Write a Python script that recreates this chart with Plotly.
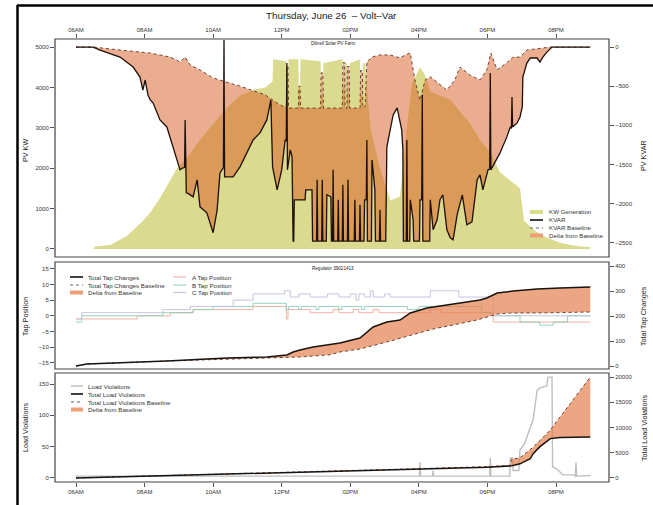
import plotly.graph_objects as go

W, H = 653, 505
DAY = "2014-06-26 "

hour_ticks = ["06:00", "08:00", "10:00", "12:00", "14:00", "16:00", "18:00", "20:00"]
hour_labels = ["06AM", "08AM", "10AM", "12PM", "02PM", "04PM", "06PM", "08PM"]

# ---------------- Top panel: Dibrell Solar PV Farm ----------------
gen_time = ["06:00", "06:30", "06:33", "07:00", "07:29", "07:57", "08:10", "08:27", "08:45", "08:57",
            "09:14", "09:37", "10:00", "10:24", "10:47", "11:13", "11:31", "11:40", "11:44", "11:45",
            "12:08", "12:09", "12:11", "12:12", "12:29", "12:30", "12:32", "12:33", "13:08", "13:09",
            "13:12", "13:13", "13:46", "13:47", "13:50", "13:51", "13:54", "13:55", "13:58", "13:59",
            "14:17", "14:18", "14:21", "14:22", "14:26", "14:35", "14:52", "15:10", "15:27", "15:39",
            "15:48", "16:02", "16:11", "16:20", "16:37", "16:55", "17:12", "17:30", "17:47", "18:05",
            "18:22", "18:40", "18:57", "19:04", "19:23", "19:41", "20:07", "20:33", "21:00"]
gen_kw = [0, 0, 60, 100, 320, 690, 900, 1260, 1700, 2000,
          2250, 2700, 3100, 3500, 3800, 3950, 4000, 4100, 4150, 4700,
          4650, 3700, 3700, 4700, 4700, 4000, 4000, 4700, 4650, 3800,
          3800, 4600, 4700, 4000, 4000, 4650, 4600, 3900, 3900, 4600,
          4700, 3800, 3800, 4600, 4600, 3000, 2000, 1200, 1300, 3000,
          4100, 4500, 4300, 3900, 3800, 3700, 3400, 3100, 2700, 2400,
          1900, 1700, 1500, 700, 450, 300, 150, 80, 40]

kvar_base_time = ["06:00", "06:30", "07:17", "08:10", "08:45", "09:02", "09:11", "09:20", "09:37", "10:00",
                  "10:47", "11:31", "11:57", "12:08", "12:09", "12:11", "12:12", "12:29", "12:30", "12:32",
                  "12:33", "13:08", "13:09", "13:12", "13:13", "13:46", "13:47", "13:50", "13:51", "13:54",
                  "13:55", "13:58", "13:59", "14:17", "14:18", "14:21", "14:22", "14:26", "14:29", "14:38",
                  "14:52", "15:10", "15:27", "15:36", "15:45", "15:53", "16:02", "16:11", "16:20", "16:37",
                  "16:49", "17:03", "17:12", "17:30", "17:47", "17:59", "18:06", "18:17", "18:34", "18:45",
                  "18:57", "19:09", "19:32", "19:50", "21:00"]
kvar_base = [0, 0, -38, -77, -128, -190, -128, -230, -293, -395,
             -500, -610, -740, -770, -250, -250, -780, -780, -500, -500,
             -780, -780, -330, -330, -780, -780, -200, -200, -780, -780,
             -250, -250, -780, -780, -300, -300, -780, -750, -190, -128,
             -100, -100, -140, -100, -77, -420, -680, -420, -380, -485,
             -550, -420, -255, -360, -420, -290, -77, -290, -200, -128,
             -128, -38, -13, 0, 0]

kvar_time = ["06:00", "06:30", "06:42", "07:17", "07:40", "07:52", "07:57", "08:01", "08:06", "08:10",
             "08:15", "08:27", "08:39", "08:50", "09:02", "09:07", "09:10", "09:11", "09:13", "09:16",
             "09:25", "09:32", "09:37", "09:49", "09:55", "10:00", "10:07", "10:12", "10:18", "10:19",
             "10:20", "10:35", "10:47", "10:59", "11:10", "11:22", "11:34", "11:41", "11:44", "11:52",
             "12:00", "12:06", "12:08", "12:09", "12:10", "12:15", "12:18", "12:20", "12:21", "12:22",
             "12:41", "12:42", "12:53", "12:54", "13:01", "13:02", "13:03", "13:10", "13:11", "13:12",
             "13:18", "13:19", "13:26", "13:27", "13:29", "13:30", "13:31", "13:38", "13:39", "13:40",
             "13:46", "13:47", "13:48", "13:55", "13:56", "13:57", "14:07", "14:08", "14:09", "14:16",
             "14:17", "14:18", "14:24", "14:25", "14:28", "14:29", "14:30", "14:37", "14:38", "14:43",
             "14:44", "14:51", "14:52", "14:53", "15:02", "15:04", "15:15", "15:22", "15:30", "15:32",
             "15:33", "15:38", "15:39", "15:40", "15:44", "15:45", "15:50", "15:51", "16:01", "16:02",
             "16:05", "16:06", "16:07", "16:19", "16:20", "16:25", "16:32", "16:37", "16:42", "16:49",
             "16:55", "17:00", "17:07", "17:16", "17:24", "17:33", "17:42", "17:47", "17:52", "18:01",
             "18:04", "18:05", "18:06", "18:22", "18:34", "18:40", "18:42", "18:43", "18:44", "18:52",
             "18:57", "19:01", "19:02", "19:09", "19:15", "19:27", "19:32", "19:37", "19:44", "19:53",
             "21:00"]
kvar = [0, 0, -38, -128, -255, -383, -549, -421, -612, -676,
        -715, -931, -1021, -1276, -1569, -1544, -1540, -931, -1863, -1870,
        -1914, -1697, -2042, -2118, -2246, -2373, -2080, -1608, -1540, 90,
        -1659, -1659, -1531, -1353, -1187, -1097, -931, -676, -1531, -1825,
        -1569, -1187, -1200, -204, -1569, -1314, -1400, -2480, -2480, -1952,
        -1952, -1825, -1825, -2480, -2480, -1697, -2480, -2480, -1697, -2480,
        -2480, -1888, -1914, -2480, -2480, -1569, -2480, -2480, -1952, -2480,
        -2480, -1761, -2480, -2480, -1697, -2480, -2480, -1952, -2480, -2480,
        -2016, -2480, -2480, -1952, -1952, -1187, -2480, -2480, -1442, -1825,
        -2480, -2480, -2080, -2480, -2480, -1276, -868, -778, -1059, -1300,
        -2480, -2480, -1187, -2480, -2480, -1952, -2207, -2480, -2480, -1952,
        -1952, -612, -2480, -2480, -1952, -2335, -2207, -1952, -1888, -2335,
        -2437, -2463, -2144, -1888, -2271, -2233, -1697, -1633, -1825, -1569,
        -1560, -332, -1569, -1353, -1148, -1021, -1040, -638, -1021, -970,
        -893, -766, -383, -204, -140, -140, -191, -128, -64, 0,
        0]

# ---------------- Middle panel: Regulator 39021413 ----------------
tapA_time = ["06:00", "07:47", "08:45", "09:25", "11:10", "12:08", "12:11", "12:50", "13:30", "13:40",
             "14:05", "14:15", "14:40", "14:50", "16:20", "16:40", "18:10", "21:00"]
tapA = [-1, 0, 1, 2, 3, -1, 2, 1, 2, 1,
        2, 1, 2, 1, 2, 1, -2, -2]
tapB_time = ["06:00", "06:10", "08:32", "09:25", "10:00", "11:10", "12:08", "12:12", "12:30", "12:35",
             "13:00", "13:05", "13:40", "13:45", "14:20", "14:25", "15:40", "16:00", "17:50", "18:10",
             "18:57", "19:32", "19:55", "20:20", "21:00"]
tapB = [-2, 0, 1, 2, 3, 4, 2, 3, 2, 3,
        2, 3, 2, 3, 2, 3, 2, 3, 1, 0,
        -2, -3, -2, 0, 0]
tapC_time = ["06:00", "06:10", "08:32", "09:20", "10:35", "11:10", "12:05", "12:15", "12:30", "12:50",
             "13:20", "13:40", "14:00", "14:10", "14:15", "14:25", "14:35", "14:40", "15:00", "15:10",
             "16:20", "17:10", "18:10", "21:00"]
tapC = [-1, 1, 2, 3, 5, 7, 8, 6, 7, 6,
        7, 6, 7, 5, 7, 6, 8, 6, 7, 6,
        8, 6, 0, 0]

taps_time = ["06:00", "06:19", "08:39", "10:24", "11:34", "12:09", "12:20", "12:32", "12:55", "13:07",
             "13:25", "13:42", "14:17", "14:40", "15:04", "15:27", "15:45", "16:14", "16:37", "17:12",
             "17:47", "17:59", "18:17", "18:45", "19:27", "20:07", "21:00"]
taps_total = [0, 8, 20, 32, 36, 44, 56, 64, 76, 80,
              88, 92, 112, 156, 176, 184, 212, 232, 240, 252,
              264, 272, 292, 300, 308, 312, 316]
taps_base_time = ["06:00", "06:19", "08:39", "09:37", "11:34", "12:32", "13:07", "13:25", "13:42", "14:17",
                  "15:04", "15:50", "16:25", "17:00", "17:42", "18:17", "18:40", "19:27", "21:00"]
taps_base = [0, 8, 20, 23, 32, 36, 42, 45, 56, 68,
             96, 124, 148, 164, 184, 208, 212, 212, 216]

# ---------------- Bottom panel: load violations ----------------
lv_time = ["06:00", "16:01", "16:02", "16:03", "16:24", "16:25", "16:26", "18:04", "18:05", "18:06",
           "18:39", "18:40", "18:44", "18:45", "18:55", "18:57", "19:04", "19:15", "19:20", "19:27",
           "19:32", "19:44", "19:46", "19:53", "19:54", "20:02", "20:12", "20:30", "20:34", "20:35",
           "20:36", "21:00"]
lv = [3, 3, 25, 3, 3, 12, 3, 3, 32, 3,
      3, 32, 32, 12, 12, 45, 53, 80, 93, 140,
      144, 147, 161, 161, 18, 14, 5, 5, 3, 25,
      3, 4]
tlv_time = ["06:00", "10:00", "13:10", "16:02", "18:00", "18:43", "18:57", "19:15", "19:20", "19:32",
            "19:50", "20:07", "21:00"]
tlv = [0, 700, 1200, 1800, 2100, 2400, 2800, 3800, 4800, 6200,
       7800, 8000, 8100]
tlv_base_time = ["06:00", "13:10", "16:02", "18:00", "18:40", "18:42", "18:57", "19:20", "19:50", "21:00"]
tlv_base = [0, 1250, 1850, 2250, 2500, 3700, 4000, 6100, 9500, 20000]

for a, b in [(gen_time, gen_kw), (kvar_base_time, kvar_base), (kvar_time, kvar), (tapA_time, tapA),
             (tapB_time, tapB), (tapC_time, tapC), (taps_time, taps_total), (taps_base_time, taps_base),
             (lv_time, lv), (tlv_time, tlv), (tlv_base_time, tlv_base)]:
    assert len(a) == len(b), (len(a), len(b))
    assert a == sorted(a)


def ts(lst):
    return [DAY + t for t in lst]


# ---------------- styles ----------------
FONT = "Liberation Sans, Arial, sans-serif"
YELLOW = "rgb(219,219,143)"
DELTA_TOP = "rgba(215,92,32,0.5)"
DELTA = "rgba(228,128,78,0.7)"
SALMON_SWATCH = "rgb(236,160,120)"
A_COL = "rgb(244,168,155)"
B_COL = "rgb(140,205,180)"
C_COL = "rgb(190,190,222)"
GREY = "rgb(190,190,190)"
DOT = dict(width=0.9, color="rgb(90,50,35)", dash="dot")

fig = go.Figure()

# Top panel
fig.add_trace(go.Scatter(x=ts(gen_time), y=gen_kw, xaxis="x", yaxis="y", mode="lines",
                         line=dict(width=0, color=YELLOW), fill="tozeroy", fillcolor=YELLOW,
                         showlegend=False, name="KW Generation"))
fig.add_trace(go.Scatter(x=ts(kvar_base_time), y=kvar_base, xaxis="x", yaxis="y2", mode="lines",
                         line=dict(width=0), showlegend=False, hoverinfo="skip"))
fig.add_trace(go.Scatter(x=ts(kvar_time), y=kvar, xaxis="x", yaxis="y2", mode="lines",
                         line=dict(width=0), fill="tonexty", fillcolor=DELTA_TOP,
                         showlegend=False, name="Delta from Baseline"))
fig.add_trace(go.Scatter(x=ts(kvar_base_time), y=kvar_base, xaxis="x", yaxis="y2", mode="lines",
                         line=DOT, showlegend=False, name="KVAR Baseline"))
fig.add_trace(go.Scatter(x=ts(kvar_time), y=kvar, xaxis="x", yaxis="y2", mode="lines",
                         line=dict(width=1.3, color="rgb(30,15,8)"),
                         showlegend=False, name="KVAR"))

# Middle panel
for t, v, c, n in [(tapA_time, tapA, A_COL, "A Tap Position"), (tapB_time, tapB, B_COL, "B Tap Position"),
                   (tapC_time, tapC, C_COL, "C Tap Position")]:
    fig.add_trace(go.Scatter(x=ts(t), y=v, xaxis="x2", yaxis="y3", mode="lines",
                             line=dict(width=0.9, color=c, shape="hv"), showlegend=False, name=n))
fig.add_trace(go.Scatter(x=ts(taps_base_time), y=taps_base, xaxis="x2", yaxis="y4", mode="lines",
                         line=dict(width=0), showlegend=False, hoverinfo="skip"))
fig.add_trace(go.Scatter(x=ts(taps_time), y=taps_total, xaxis="x2", yaxis="y4", mode="lines",
                         line=dict(width=0), fill="tonexty", fillcolor=DELTA,
                         showlegend=False, name="Delta from Baseline"))
fig.add_trace(go.Scatter(x=ts(taps_base_time), y=taps_base, xaxis="x2", yaxis="y4", mode="lines",
                         line=DOT, showlegend=False, name="Total Tap Changes Baseline"))
fig.add_trace(go.Scatter(x=ts(taps_time), y=taps_total, xaxis="x2", yaxis="y4", mode="lines",
                         line=dict(width=1.5, color="rgb(25,20,15)"),
                         showlegend=False, name="Total Tap Changes"))

# Bottom panel
fig.add_trace(go.Scatter(x=ts(lv_time), y=lv, xaxis="x3", yaxis="y5", mode="lines",
                         line=dict(width=1.4, color=GREY), showlegend=False, name="Load Violations"))
fig.add_trace(go.Scatter(x=ts(tlv_base_time), y=tlv_base, xaxis="x3", yaxis="y6", mode="lines",
                         line=dict(width=0), showlegend=False, hoverinfo="skip"))
fig.add_trace(go.Scatter(x=ts(tlv_time), y=tlv, xaxis="x3", yaxis="y6", mode="lines",
                         line=dict(width=0), fill="tonexty", fillcolor=DELTA,
                         showlegend=False, name="Delta from Baseline"))
fig.add_trace(go.Scatter(x=ts(tlv_base_time), y=tlv_base, xaxis="x3", yaxis="y6", mode="lines",
                         line=DOT, showlegend=False, name="Total Load Violations Baseline"))
fig.add_trace(go.Scatter(x=ts(tlv_time), y=tlv, xaxis="x3", yaxis="y6", mode="lines",
                         line=dict(width=1.5, color="rgb(25,20,15)"),
                         showlegend=False, name="Total Load Violations"))

# ---------------- layout ----------------
def px(x):
    return x / W


def py(y):
    return 1 - y / H


XD = [px(55), px(609)]
TOP = [py(257), py(39)]
MID = [py(369), py(262)]
BOT = [py(482), py(373)]

tickfont = dict(family=FONT, size=6, color="#333")
common = dict(showgrid=False, zeroline=False, showline=False, ticks="outside", ticklen=4,
              tickwidth=0.8, tickcolor="#555", tickfont=tickfont)
xrange = [DAY + "05:23:15", DAY + "21:32:45"]

fig.update_layout(
    width=W, height=H, margin=dict(l=0, r=0, t=0, b=0),
    paper_bgcolor="white", plot_bgcolor="white", showlegend=False,
    font=dict(family=FONT, color="#222"),
    xaxis=dict(domain=XD, anchor="y", side="top", type="date", range=xrange,
               tickvals=ts(hour_ticks), ticktext=hour_labels, **common),
    xaxis2=dict(domain=XD, anchor="y3", matches="x", type="date", showticklabels=False,
                showgrid=False, zeroline=False, ticks=""),
    xaxis3=dict(domain=XD, anchor="y5", matches="x", type="date", side="bottom",
                tickvals=ts(hour_ticks), ticktext=hour_labels, **common),
    yaxis=dict(domain=TOP, anchor="x", range=[-200, 5200],
               tickvals=[0, 1000, 2000, 3000, 4000, 5000], **common),
    yaxis2=dict(overlaying="y", anchor="x", side="right", range=[-2683, 103],
                tickvals=[-2500, -2000, -1500, -1000, -500, 0], **common),
    yaxis3=dict(domain=MID, anchor="x2", range=[-17, 17.2],
                tickvals=[-15, -10, -5, 0, 5, 10, 15], **common),
    yaxis4=dict(overlaying="y3", anchor="x2", side="right", range=[-12, 416],
                tickvals=[0, 100, 200, 300, 400], **common),
    yaxis5=dict(domain=BOT, anchor="x3", range=[-6.4, 167.6],
                tickvals=[0, 50, 100, 150], **common),
    yaxis6=dict(overlaying="y5", anchor="x3", side="right", range=[-800, 20800],
                tickvals=[0, 5000, 10000, 15000, 20000],
                ticktext=["0", "5000", "10000", "15000", "20000"], **common),
)

shapes = []
annotations = []

# panel boxes
for dom in (TOP, MID, BOT):
    shapes.append(dict(type="rect", xref="paper", yref="paper", x0=XD[0], x1=XD[1],
                       y0=dom[0], y1=dom[1], line=dict(color="#444", width=1.2)))
# outer frame
shapes.append(dict(type="line", xref="paper", yref="paper", x0=px(17), x1=1, y0=py(5.5), y1=py(5.5),
                   line=dict(color="black", width=2.5)))
shapes.append(dict(type="line", xref="paper", yref="paper", x0=px(17.5), x1=px(17.5), y0=py(5), y1=0,
                   line=dict(color="black", width=2.5)))


def text(x, y, s, size, angle=0, anchor="center", color="#222"):
    annotations.append(dict(x=px(x), y=py(y), xref="paper", yref="paper", text=s, showarrow=False,
                            textangle=angle, xanchor=anchor, yanchor="middle",
                            font=dict(family=FONT, size=size, color=color)))


text(331, 15, "Thursday, June 26\u00a0 \u2013 Volt\u2013Var", 9.8)
text(333, 44, "Dibrell Solar PV Farm", 4.6)
text(333, 268, "Regulator 39021413", 4.6)

text(25, 150, "PV KW", 7.2, angle=-90)
text(643, 156, "PV KVAR", 7.2, angle=-90)
text(25, 316, "Tap Position", 7.2, angle=-90)
text(643, 316, "Total Tap Changes", 7.2, angle=-90)
text(25, 427, "Load Violations", 7.2, angle=-90)
text(644, 428, "Total Load Violations", 7.2, angle=-90)

# compact manual legends, as in the original
top_legend = [("KW Generation", YELLOW, 4, "solid"), ("KVAR", "black", 1.5, "solid"),
              ("KVAR Baseline", "#666", 1, "dot"), ("Delta from Baseline", SALMON_SWATCH, 4, "solid")]
mid_legend1 = [("Total Tap Changes", "black", 1.5, "solid"), ("Total Tap Changes Baseline", "#666", 1, "dot"),
               ("Delta from Baseline", SALMON_SWATCH, 4, "solid")]
mid_legend2 = [("A Tap Position", A_COL, 1, "solid"), ("B Tap Position", B_COL, 1, "solid"),
               ("C Tap Position", C_COL, 1, "solid")]
bot_legend = [("Load Violations", GREY, 1.5, "solid"), ("Total Load Violations", "black", 1.5, "solid"),
              ("Total Load Violations Baseline", "#666", 1, "dot"),
              ("Delta from Baseline", SALMON_SWATCH, 4, "solid")]


def legend(items, x0, x1, xt, rows):
    for (label, col, w, dash), y in zip(items, rows):
        shapes.append(dict(type="line", xref="paper", yref="paper", x0=px(x0), x1=px(x1),
                           y0=py(y), y1=py(y), line=dict(color=col, width=w, dash=dash)))
        text(xt, y, label, 6.2, anchor="left", color="#333")


legend(top_legend, 530, 543, 547, [212, 220, 228, 235.5])
legend(mid_legend1, 70, 83, 86, [277, 285, 292.5])
legend(mid_legend2, 173, 186, 190, [277, 285, 292.5])
legend(bot_legend, 71, 83, 86, [386, 394, 402, 409.5])

fig.update_layout(shapes=shapes, annotations=annotations)

fig.write_html("out.html", config={"displayModeBar": False},
               post_script="document.body.style.margin='0px';document.body.style.overflow='hidden';")
